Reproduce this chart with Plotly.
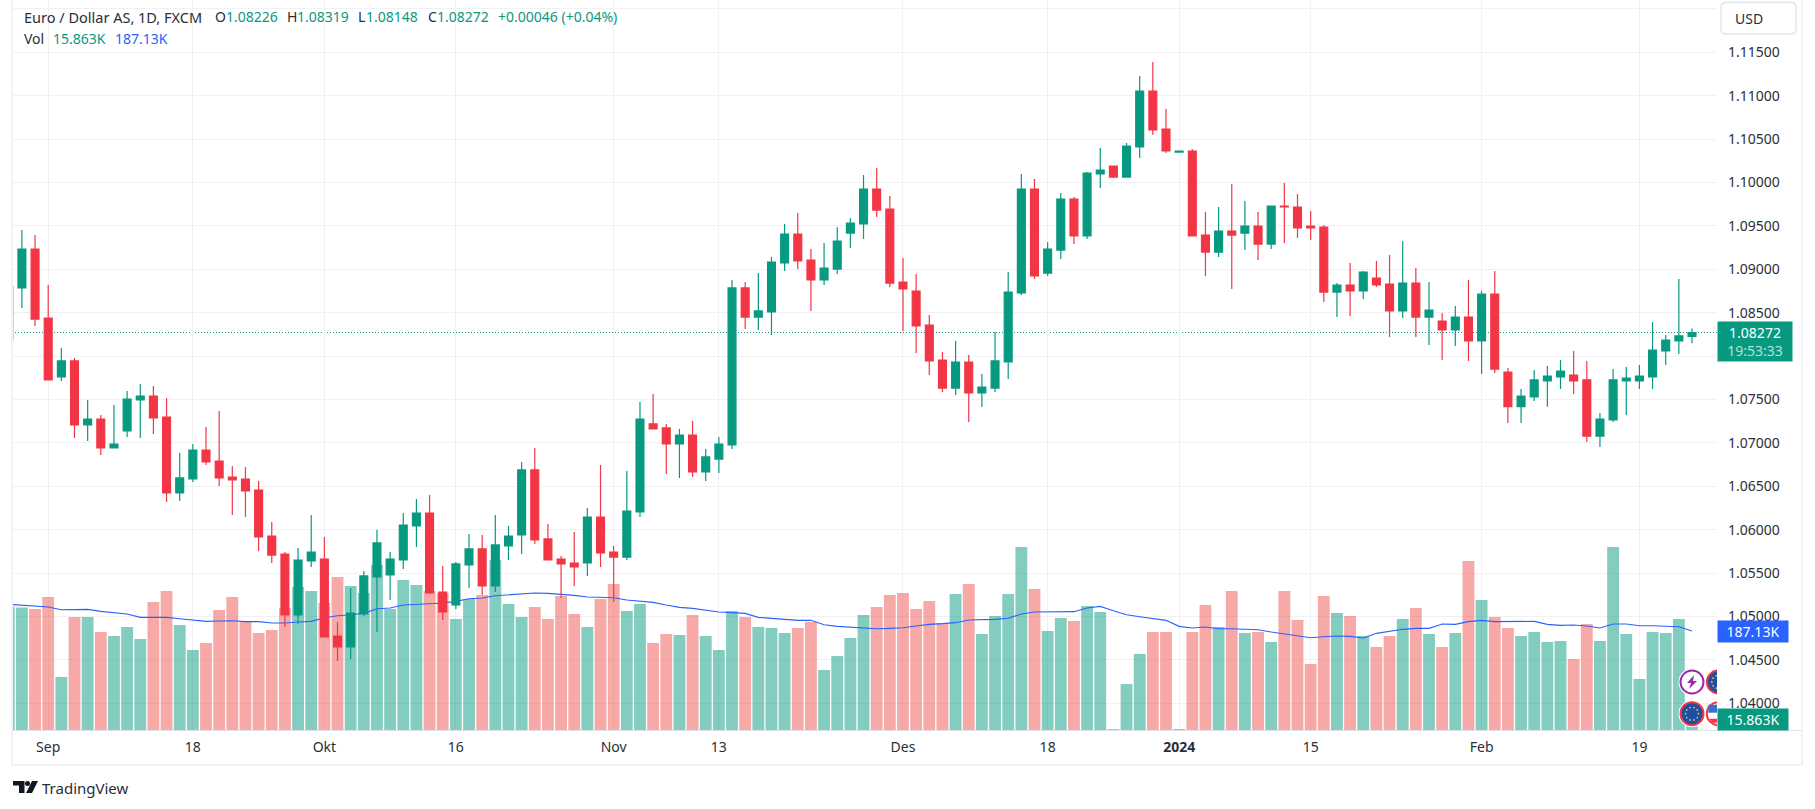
import math
import plotly.graph_objects as go

bar_index = list(range(-3, 126))

open_prices = [
 1.08185,1.08785,1.09234,1.08439,1.07759,1.07944,1.07206,1.07275,1.06941,1.07137,1.07494,1.07540,1.07298,1.06423,1.06584,1.06918,1.06791,1.06607,1.06584,1.06457,1.05927,1.05720,1.05017,1.05639,1.05662,1.04775,
 1.04649,1.05029,1.05455,1.05478,1.05651,1.06043,1.06192,1.05282,1.05132,1.05593,1.05778,1.05351,1.05812,1.05939,1.06688,1.05893,1.05662,1.05616,1.05616,1.06146,1.05743,1.05685,1.06204,1.07218,1.07172,1.06987,
 1.07091,1.06665,1.06814,1.06976,1.08785,1.08450,1.08508,1.09073,1.09407,1.09107,1.08877,1.09003,1.09418,1.09522,1.09925,1.09695,1.08854,1.08750,1.08358,1.07955,1.07632,1.07932,1.07575,1.07632,1.07932,1.08727,
 1.09925,1.08957,1.09222,1.09810,1.09384,1.10098,1.10190,1.10063,1.10409,1.11054,1.10616,1.10351,1.10363,1.09395,1.09199,1.09441,1.09418,1.09499,1.09291,1.09729,1.09718,1.09499,1.09487,1.08738,1.08819,1.08750,
 1.08900,1.08831,1.08520,1.08842,1.08450,1.08404,1.08301,1.08450,1.08174,1.08715,1.07817,1.07417,1.07529,1.07713,1.07759,1.07782,1.07725,1.07079,1.07264,1.07713,1.07713,1.07759,1.08059,1.08174,1.08226]
high_prices = [
 1.08800,1.09453,1.09395,1.08819,1.08093,1.07978,1.07494,1.07321,1.07437,1.07598,1.07679,1.07655,1.07517,1.06884,1.06987,1.07183,1.07367,1.06734,1.06722,1.06561,1.06089,1.05743,1.05789,1.06169,1.05916,1.04937,
 1.05328,1.05524,1.05997,1.05743,1.06192,1.06354,1.06400,1.05582,1.05628,1.05950,1.05939,1.06169,1.06043,1.06780,1.06941,1.06066,1.05697,1.05973,1.06250,1.06745,1.05812,1.06676,1.07471,1.07563,1.07218,1.07160,
 1.07252,1.06930,1.07068,1.08877,1.08854,1.08957,1.09142,1.09522,1.09649,1.09234,1.09303,1.09487,1.09591,1.10086,1.10167,1.09844,1.09130,1.08946,1.08473,1.08047,1.08174,1.08013,1.07794,1.08278,1.08969,1.10098,
 1.10040,1.09314,1.09879,1.09833,1.10121,1.10397,1.10190,1.10455,1.11227,1.11388,1.10847,1.10363,1.10386,1.09660,1.09718,1.09983,1.09787,1.09660,1.09729,1.09994,1.09867,1.09672,1.09510,1.08842,1.09073,1.08980,
 1.09096,1.09165,1.09326,1.09015,1.08854,1.08497,1.08577,1.08877,1.08750,1.08980,1.07863,1.07621,1.07840,1.07886,1.07955,1.08059,1.07944,1.07344,1.07851,1.07874,1.07897,1.08393,1.08243,1.08888,1.08319]
low_prices = [
 1.08185,1.08554,1.08347,1.07725,1.07713,1.07056,1.07022,1.06861,1.06941,1.07068,1.07056,1.07102,1.06319,1.06331,1.06550,1.06745,1.06503,1.06169,1.06146,1.05755,1.05616,1.04879,1.04914,1.05570,1.04764,1.04487,
 1.04510,1.05006,1.04821,1.05190,1.05547,1.05801,1.05259,1.04960,1.05086,1.05328,1.05248,1.05282,1.05651,1.05720,1.05835,1.05651,1.05213,1.05351,1.05467,1.05570,1.05167,1.05651,1.06146,1.07160,1.06642,1.06596,
 1.06607,1.06561,1.06653,1.06930,1.08312,1.08301,1.08243,1.08980,1.09003,1.08520,1.08819,1.08946,1.09245,1.09349,1.09603,1.08796,1.08289,1.08036,1.07782,1.07586,1.07552,1.07241,1.07414,1.07586,1.07736,1.08704,
 1.08888,1.08923,1.09119,1.09291,1.09349,1.09937,1.10052,1.10063,1.10282,1.10547,1.10340,1.10351,1.09384,1.08923,1.09142,1.08773,1.09222,1.09107,1.09234,1.09303,1.09361,1.09338,1.08623,1.08450,1.08462,1.08658,
 1.08796,1.08220,1.08439,1.08220,1.08128,1.07955,1.08116,1.07944,1.07794,1.07805,1.07229,1.07229,1.07483,1.07417,1.07621,1.07563,1.07010,1.06953,1.07241,1.07321,1.07621,1.07621,1.07897,1.08024,1.08148]
close_prices = [
 1.08800,1.09234,1.08427,1.07725,1.07944,1.07206,1.07275,1.06941,1.06987,1.07506,1.07540,1.07287,1.06423,1.06596,1.06918,1.06780,1.06596,1.06573,1.06446,1.05916,1.05708,1.05017,1.05651,1.05743,1.04764,1.04649,
 1.05040,1.05467,1.05847,1.05662,1.06054,1.06192,1.05271,1.05052,1.05605,1.05778,1.05351,1.05824,1.05927,1.06688,1.05881,1.05651,1.05605,1.05570,1.06146,1.05732,1.05685,1.06215,1.07275,1.07160,1.06987,1.07091,
 1.06665,1.06838,1.06987,1.08785,1.08450,1.08520,1.09084,1.09407,1.09096,1.08877,1.09015,1.09326,1.09533,1.09925,1.09683,1.08842,1.08773,1.08347,1.07944,1.07632,1.07932,1.07575,1.07644,1.07944,1.08738,1.09925,
 1.08923,1.09234,1.09810,1.09384,1.10109,1.10144,1.10063,1.10420,1.11054,1.10605,1.10363,1.10363,1.09384,1.09199,1.09441,1.09395,1.09499,1.09291,1.09729,1.09718,1.09476,1.09476,1.08738,1.08819,1.08750,1.08969,
 1.08819,1.08520,1.08842,1.08450,1.08531,1.08301,1.08450,1.08174,1.08715,1.07851,1.07417,1.07540,1.07725,1.07771,1.07828,1.07713,1.07079,1.07275,1.07725,1.07748,1.07771,1.08070,1.08185,1.08232,1.08272]
volume_k = [
 233.1,231.8,228.7,251.4,100.2,213.6,213.6,185.2,177.7,194.7,172.0,241.9,262.7,198.4,151.2,164.4,226.8,251.4,206.0,183.3,189.0,230.6,270.3,262.7,240.0,289.2,
 272.2,258.9,311.9,228.7,283.5,274.1,262.7,258.9,209.8,247.6,255.2,321.3,238.1,213.6,232.5,209.8,253.3,219.2,194.7,247.6,275.9,224.9,238.1,164.4,181.4,179.6,
 217.3,177.7,151.2,224.9,213.6,194.7,192.8,183.3,192.8,204.1,113.4,139.9,173.9,217.3,232.5,255.2,258.9,228.7,243.8,202.2,257.0,275.9,181.4,215.5,257.0,345.9,
 266.5,187.1,211.7,206.0,234.4,223.0,1.9,86.9,143.6,185.2,185.2,1.9,185.2,236.2,194.7,262.7,183.3,185.2,166.3,262.7,207.9,124.7,253.3,221.1,215.5,177.7,
 156.9,177.7,209.8,230.6,181.4,156.9,183.3,319.4,245.7,213.6,192.8,177.7,185.2,166.3,168.2,134.2,200.3,168.2,345.9,181.4,96.4,185.2,183.3,209.8,15.863]
volume_ma_k = [
 237.5,235.6,233.7,232.5,227.4,227.4,228.1,224.3,221.8,219.2,212.9,212.9,212.9,210.4,207.9,205.4,206.0,206.6,204.8,204.8,202.2,202.2,204.1,205.4,212.3,216.1,
 218.0,220.5,229.3,230.6,236.2,238.1,238.8,240.0,243.2,248.2,249.5,253.9,255.2,257.0,258.9,258.3,257.0,254.5,251.4,250.1,250.1,245.7,243.2,241.3,236.2,231.8,
 229.9,226.2,223.0,221.8,220.5,212.9,211.1,208.5,207.3,207.3,199.1,195.9,194.7,193.4,191.5,192.2,193.4,196.6,199.7,201.0,202.9,207.9,208.5,209.2,211.1,219.2,
 223.0,223.0,223.0,223.7,230.6,233.7,225.5,218.0,214.2,211.1,207.3,195.9,192.8,194.7,191.5,191.5,190.9,189.6,185.2,181.4,178.9,174.5,176.4,177.7,177.0,173.9,
 182.7,187.1,190.3,192.2,192.2,200.3,199.7,204.8,207.3,204.8,204.8,204.8,205.4,199.7,197.8,198.4,196.6,192.8,200.3,200.3,197.2,197.2,196.6,195.3,187.13]

x_tick_positions = [0, 11, 21, 31, 43, 51, 65, 76, 86, 96, 109, 121]
x_tick_labels = ["Sep", "18", "Okt", "16", "Nov", "13", "Des", "18", "<b>2024</b>", "15", "Feb", "19"]
price_ticks = [1.04,1.045,1.05,1.055,1.06,1.065,1.07,1.075,1.08,1.085,1.09,1.095,1.10,1.105,1.11,1.115,1.12]
price_tick_labels = ["1.04000","1.04500","1.05000","1.05500","1.06000","1.06500","1.07000","1.07500","1.08000",
                     "1.08500","1.09000","1.09500","1.10000","1.10500","1.11000","1.11500",""]

GREEN, RED, BLUE = "#089981", "#F23645", "#2962FF"
TEXT, GRID, FRAME, FONT = "#2a2e39", "#f1f1f4", "#f0f3fa", "Noto Sans"
L, R_EDGE, PB = 13, 1717, 730
W, H = 1815, 809

def X(x): return (x - L) / (R_EDGE - L)
def Y(y): return 1 - y / PB

vol_colors = ["rgba(8,153,129,0.5)" if c >= o else "rgba(239,83,80,0.5)" for o, c in zip(open_prices, close_prices)]

fig = go.Figure()
fig.add_trace(go.Bar(x=bar_index, y=volume_k, marker=dict(color=vol_colors, line=dict(width=0)),
                     width=0.9, yaxis="y", hoverinfo="skip", showlegend=False))
fig.add_trace(go.Scatter(x=bar_index, y=volume_ma_k, mode="lines", line=dict(color=BLUE, width=1.1),
                         yaxis="y", hoverinfo="skip", showlegend=False))
fig.add_trace(go.Candlestick(x=bar_index, open=open_prices, high=high_prices, low=low_prices, close=close_prices,
                             increasing=dict(line=dict(color=GREEN, width=1.2), fillcolor=GREEN),
                             decreasing=dict(line=dict(color=RED, width=1.2), fillcolor=RED),
                             whiskerwidth=0, yaxis="y2", hoverinfo="skip", showlegend=False))

shapes = []
def line(x0, y0, x1, y1, color, w=1):
    shapes.append(dict(type="line", xref="paper", yref="paper", x0=X(x0), y0=Y(y0), x1=X(x1), y1=Y(y1),
                       line=dict(color=color, width=w), layer="above"))
def poly(points, fill):
    d = "M " + " L ".join(f"{X(a)},{Y(b)}" for a, b in points) + " Z"
    shapes.append(dict(type="path", xref="paper", yref="paper", path=d, fillcolor=fill, line=dict(width=0), layer="above"))

# price line
shapes.append(dict(type="line", xref="paper", yref="y2", x0=X(15), x1=1, y0=close_prices[-1], y1=close_prices[-1],
                   line=dict(color=GREEN, width=1, dash="1px,2px"), layer="below"))
# chart frame
line(12, 0, 12, 765, FRAME, 2)
line(12, 765, 1802, 765, FRAME, 2)
line(1802, 0, 1802, 765, FRAME, 2)
line(13, 730.5, 1802, 730.5, "#e0e3eb", 1.2)

# USD box
x0, x1, y0, y1, r = 1721, 1796, 2.5, 34, 5
d = (f"M {X(x0+r)},{Y(y0)} L {X(x1-r)},{Y(y0)} Q {X(x1)},{Y(y0)} {X(x1)},{Y(y0+r)} L {X(x1)},{Y(y1-r)} "
     f"Q {X(x1)},{Y(y1)} {X(x1-r)},{Y(y1)} L {X(x0+r)},{Y(y1)} Q {X(x0)},{Y(y1)} {X(x0)},{Y(y1-r)} "
     f"L {X(x0)},{Y(y0+r)} Q {X(x0)},{Y(y0)} {X(x0+r)},{Y(y0)} Z")
shapes.append(dict(type="path", xref="paper", yref="paper", path=d, fillcolor="white",
                   line=dict(color="#e0e3eb", width=1.3), layer="above"))

# TradingView logo
poly([(13,781),(24.5,781),(24.5,793),(19,793),(19,785.5),(13,785.5)], "#131722")
shapes.append(dict(type="circle", xref="paper", yref="paper", x0=X(25), x1=X(30), y0=Y(781), y1=Y(786),
                   fillcolor="#131722", line=dict(width=0), layer="above"))
poly([(32,781),(38,781),(32,793),(26,793)], "#131722")

# event badges, clipped by the plot area
def badge(xa, ya, ring, fill):
    common = dict(type="circle", xref="x", yref="y", xsizemode="pixel", ysizemode="pixel",
                  xanchor=xa, yanchor=ya, layer="above")
    shapes.append(dict(common, x0=-13.5, x1=13.5, y0=-13.5, y1=13.5, fillcolor="white", line=dict(width=0)))
    shapes.append(dict(common, x0=-11.5, x1=11.5, y0=-11.5, y1=11.5, fillcolor=fill, line=dict(color=ring, width=2)))
def eu_stars(xa, ya):
    for k in range(10):
        a = 2 * math.pi * k / 10
        cx, cy = 6.5 * math.cos(a), 6.5 * math.sin(a)
        shapes.append(dict(type="circle", xref="x", yref="y", xsizemode="pixel", ysizemode="pixel",
                           xanchor=xa, yanchor=ya, x0=cx-0.9, x1=cx+0.9, y0=cy-0.9, y1=cy+0.9,
                           fillcolor="#f2c230", line=dict(width=0), layer="above"))
col1, col2, row1, row2 = 125, 127, 90.7, 30.8
badge(col1, row1, "#9c27b0", "white")
shapes.append(dict(type="path", xref="x", yref="y", xsizemode="pixel", ysizemode="pixel", xanchor=col1, yanchor=row1,
                   path="M 2,7 L -5,-1 L -1,-1 L -3,-7 L 5,1 L 1,1 Z", fillcolor="#9c27b0", line=dict(width=0), layer="above"))
badge(col2, row1, RED, "#1f4fa3"); eu_stars(col2, row1)
badge(col1, row2, RED, "#1f4fa3"); eu_stars(col1, row2)
badge(col2, row2, RED, "white")
shapes.append(dict(type="path", xref="x", yref="y", xsizemode="pixel", ysizemode="pixel", xanchor=col2, yanchor=row2,
                   path="M -10,9 L 0,9 L 0,1 L -10,1 Z", fillcolor="#3f6fc4", line=dict(width=0), layer="above"))
shapes.append(dict(type="path", xref="x", yref="y", xsizemode="pixel", ysizemode="pixel", xanchor=col2, yanchor=row2,
                   path="M -9,-5 L 0,-5 L 0,-9 L -6,-9 Z", fillcolor=RED, line=dict(width=0), layer="above"))

ann = []
def label(x, y, text, color=TEXT, size=14):
    ann.append(dict(xref="paper", yref="paper", x=X(x), y=Y(y), text=text, showarrow=False, xanchor="left",
                    yanchor="middle", font=dict(family=FONT, size=size, color=color)))
label(21.5, 17, "Euro / Dollar AS, 1D, FXCM", TEXT, 14.5)
for xl, head, val, xv in [(212.5, "O", "1.08226", 224), (284.5, "H", "1.08319", 295), (356, "L", "1.08148", 364), (425.5, "C", "1.08272", 435)]:
    label(xl, 17, head)
    label(xv, 17, val, GREEN)
label(496, 17, "+0.00046 (+0.04%)", GREEN)
label(21.5, 38, "Vol")
label(51, 38, "15.863K", GREEN)
label(113, 38, "187.13K", BLUE)
label(1733, 18, "USD")
label(40, 787.5, "TradingView", TEXT, 15)

def price_box(yref, yval, shift, w, h, text, bg):
    ann.append(dict(xref="paper", yref=yref, x=1, y=yval, yshift=shift, xanchor="left", yanchor="middle", showarrow=False,
                    width=w, height=h, bgcolor=bg, align="center", borderpad=0, text=text,
                    font=dict(family=FONT, size=14, color="white")))
price_box("y2", close_prices[-1], -8.8, 74, 39, f"{close_prices[-1]:.5f}<br><span style='color:#b5e0d8'>19:53:33</span>", GREEN)
price_box("y", volume_ma_k[-1], 0, 70, 21, "187.13K", BLUE)
price_box("y", volume_k[-1], 2, 70, 21, "15.863K", GREEN)

fig.update_layout(
    width=W, height=H, autosize=False, margin=dict(l=L, r=W - R_EDGE, t=0, b=H - PB),
    paper_bgcolor="white", plot_bgcolor="white", showlegend=False, barmode="overlay", boxgap=0.4, boxgroupgap=0,
    shapes=shapes, annotations=ann, font=dict(family=FONT, size=14, color=TEXT),
    xaxis=dict(range=[-2.677, 126.9], tickmode="array", tickvals=x_tick_positions, ticktext=x_tick_labels,
               showgrid=True, gridcolor=GRID, gridwidth=1.2, zeroline=False, ticks="", showline=False,
               ticklabelstandoff=7, rangeslider=dict(visible=False), tickfont=dict(family=FONT, size=14, color=TEXT)),
    yaxis=dict(range=[0, 1380], visible=False, showgrid=False, zeroline=False),
    yaxis2=dict(overlaying="y", side="right", range=[1.03692, 1.12103], tickmode="array",
                tickvals=price_ticks, ticktext=price_tick_labels, showgrid=True, gridcolor=GRID, gridwidth=1.2,
                zeroline=False, ticks="", showline=False, ticklabelstandoff=10,
                tickfont=dict(family=FONT, size=14, color=TEXT)),
)
fig.write_html("out.html", config={"displayModeBar": False},
               post_script="document.body.style.margin='0';document.documentElement.style.overflow='hidden';")
